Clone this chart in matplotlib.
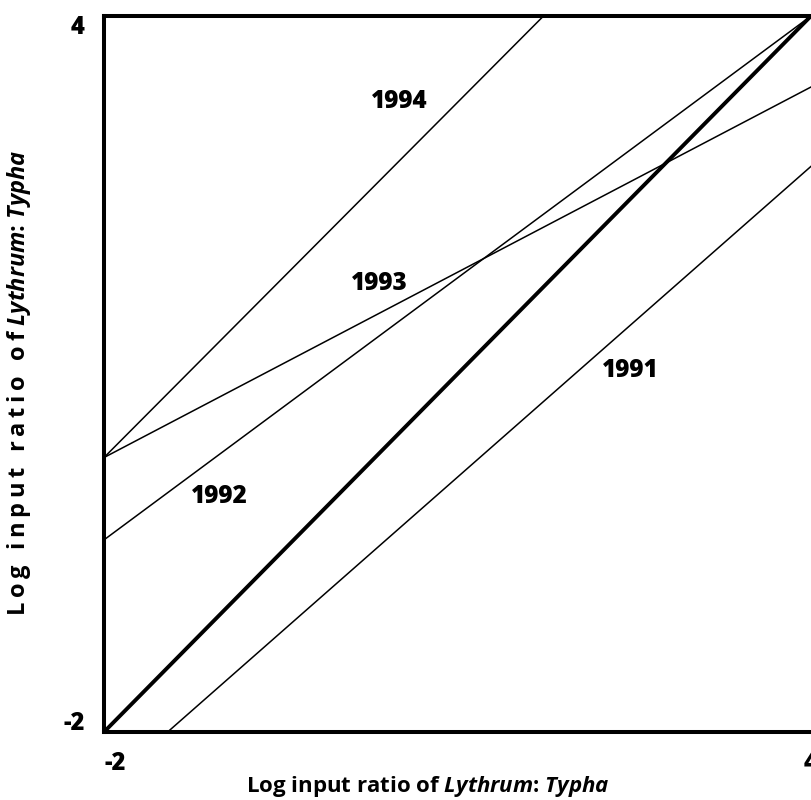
import matplotlib
matplotlib.use("Agg")
import matplotlib.pyplot as plt
from matplotlib.transforms import ScaledTranslation

plt.rcParams['font.family'] = ['Open Sans', 'DejaVu Sans']
plt.rcParams['font.weight'] = 'bold'
plt.rcParams['mathtext.fontset'] = 'custom'
plt.rcParams['mathtext.rm'] = 'Open Sans:bold'
plt.rcParams['mathtext.it'] = 'Open Sans:italic:bold'
plt.rcParams['mathtext.bf'] = 'Open Sans:bold'

# regression lines per year, as (x0, y0, x1, y1) end points in log ratio units
years = ['1991', '1992', '1993', '1994']
x_start = [-1.46, -2.0, -2.0, -2.0]
y_start = [-2.0, -0.39, 0.30, 0.30]
x_end = [4.0, 4.0, 4.0, 1.73]
y_end = [2.74, 4.0, 3.405, 4.0]

# where each year label sits
label_x = [2.47, -1.02, 0.34, 0.51]
label_y = [1.03, -0.03, 1.76, 3.28]

# 1:1 reference line
ref_x = [-2, 4]
ref_y = [-2, 4]

fig = plt.figure(figsize=(8.12, 8.0), dpi=100)
ax = fig.add_axes([104 / 812, 68 / 800, 707 / 812, 716 / 800])

ax.plot(ref_x, ref_y, color='black', lw=2.8, solid_capstyle='butt', clip_on=False)
for i in range(len(years)):
    ax.plot([x_start[i], x_end[i]], [y_start[i], y_end[i]],
            color='black', lw=1.1, clip_on=False)
    ax.text(label_x[i], label_y[i], years[i], ha='center', va='center',
            fontsize=17.5, fontweight='heavy')

ax.set_xlim(-2, 4)
ax.set_ylim(-2, 4)
ax.set_xticks([-2, 4])
ax.set_yticks([-2, 4])
ax.set_xticklabels(['-2', '4'], fontsize=17, fontweight='heavy')
ax.set_yticklabels(['-2', '4'], fontsize=17, fontweight='heavy')
ax.tick_params(length=0, pad=14)

# nudge tick labels inward like the original
xoffs = [0.11, 0.0]
yoffs = [0.12, -0.09]
for lab, d in zip(ax.get_xticklabels(), xoffs):
    lab.set_transform(lab.get_transform() + ScaledTranslation(d, 0, fig.dpi_scale_trans))
for lab, d in zip(ax.get_yticklabels(), yoffs):
    lab.set_transform(lab.get_transform() + ScaledTranslation(0, d, fig.dpi_scale_trans))

for side in ['left', 'bottom', 'top']:
    ax.spines[side].set_linewidth(2.9)
ax.spines['right'].set_visible(False)

ax.set_xlabel(r'Log input ratio of $\mathit{Lythrum}$: $\mathit{Typha}$',
              fontsize=16, fontweight='bold')
ax.xaxis.set_label_coords(0.458, -0.058)

# the y label is letter-spaced in the original
spaced = '\u2009'.join('Log input ratio of')
ax.set_ylabel(spaced + r' $\mathit{Lythrum}$: $\mathit{Typha}$',
              fontsize=17, fontweight='bold')
ax.yaxis.set_label_coords(-0.1, 0.487)

fig.savefig('out.png', dpi=100)
